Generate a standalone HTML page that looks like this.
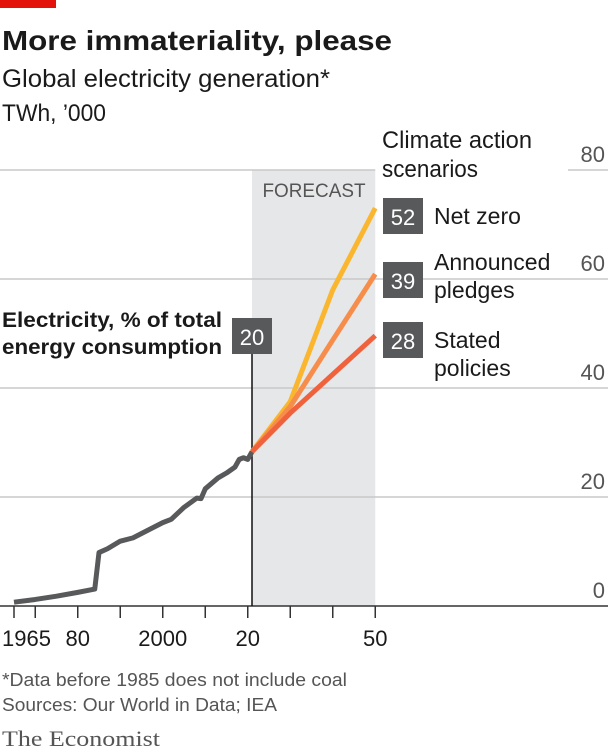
<!DOCTYPE html>
<html><head><meta charset="utf-8"><style>
html,body{margin:0;padding:0;background:#fff;width:608px;height:754px;overflow:hidden}
svg text{font-family:"Liberation Sans",sans-serif}
</style></head><body>
<svg id="chart" width="608" height="754" viewBox="0 0 608 754" xmlns="http://www.w3.org/2000/svg">
<rect x="0" y="0" width="56" height="8" fill="#e3120b"/>
<text x="2" y="50" font-size="28" font-weight="bold" fill="#1a1a1a" textLength="390" lengthAdjust="spacingAndGlyphs">More immateriality, please</text>
<text x="2" y="87" font-size="25" fill="#1a1a1a" textLength="328" lengthAdjust="spacingAndGlyphs">Global electricity generation*</text>
<text x="2" y="121" font-size="24" fill="#1a1a1a" textLength="104" lengthAdjust="spacingAndGlyphs">TWh, ’000</text>
<g id="grid"></g>
<g id="plot"></g>
<text x="314" y="197" font-size="19" fill="#555" text-anchor="middle" textLength="103" lengthAdjust="spacingAndGlyphs">FORECAST</text>
<text x="382" y="148" font-size="24" fill="#1a1a1a" textLength="150" lengthAdjust="spacingAndGlyphs">Climate action</text>
<text x="382" y="177" font-size="24" fill="#1a1a1a" textLength="96" lengthAdjust="spacingAndGlyphs">scenarios</text>
<g id="labels"></g>
<text x="2" y="327" font-size="21" font-weight="bold" fill="#1a1a1a" textLength="220" lengthAdjust="spacingAndGlyphs">Electricity, % of total</text>
<text x="2" y="354" font-size="21" font-weight="bold" fill="#1a1a1a" textLength="220" lengthAdjust="spacingAndGlyphs">energy consumption</text>
<text x="2" y="686" font-size="18" fill="#555" textLength="345" lengthAdjust="spacingAndGlyphs">*Data before 1985 does not include coal</text>
<text x="2" y="711" font-size="18" fill="#555" textLength="275" lengthAdjust="spacingAndGlyphs">Sources: Our World in Data; IEA</text>
<text x="2" y="746" font-size="22" fill="#555" style="font-family:'Liberation Serif',serif" textLength="158" lengthAdjust="spacingAndGlyphs">The Economist</text>
</svg>
<script>
const histYears=[1965,1970,1975,1980,1984,1985,1987,1990,1993,1995,2000,2002,2005,2008,2009,2010,2013,2015,2017,2018,2019,2020,2021];
const histValues=[0.7,1.2,1.8,2.5,3.1,9.8,10.5,11.9,12.5,13.3,15.3,15.9,18.1,19.8,19.7,21.5,23.5,24.4,25.5,26.9,27.2,26.9,28.3];
const fcYears=[2021,2030,2040,2050];
const netZero=[28.3,37.5,58.0,73.0];
const announced=[28.3,36.6,48.8,60.9];
const stated=[28.3,35.4,42.5,49.6];
const shareNow=[20];
const shareNetZero=[52];
const shareAnnounced=[39];
const shareStated=[28];
const yTicks=[0,20,40,60,80];
const xTicks=[1965,1970,1980,1990,2000,2010,2020,2030,2040,2050];
const xTickLabels=[["1965",1965],["80",1980],["2000",2000],["20",2020],["50",2050]];
const NS="http://www.w3.org/2000/svg";
const x=y=>14+(y-1965)*4.25;
const yv=v=>606-v*5.45;
function mk(tag,attrs,parent){const e=document.createElementNS(NS,tag);for(const k in attrs)e.setAttribute(k,attrs[k]);parent.appendChild(e);return e;}
const grid=document.getElementById('grid'),plot=document.getElementById('plot'),labels=document.getElementById('labels');
let band=mk('rect',{x:x(2021),y:yv(80),width:x(2050)-x(2021),height:yv(0)-yv(80),fill:'#e6e7e9'},grid);


yTicks.forEach(t=>{
  if(t>0&&t<80){
    let l=mk('line',{x1:0,x2:608,y1:yv(t),y2:yv(t),stroke:'#c8c8c8','stroke-width':1.5},grid);
    
    
  }
  if(t===80){
    let l=mk('line',{x1:0,x2:x(2050),y1:yv(t),y2:yv(t),stroke:'#c8c8c8','stroke-width':1.5},grid);
    
    
    let l2=mk('line',{x1:568,x2:608,y1:yv(t),y2:yv(t),stroke:'#c8c8c8','stroke-width':1.5},grid);
    
    
  }
  let tx=mk('text',{x:605,y:yv(t)-8,'font-size':22,fill:'#555','text-anchor':'end'},grid);
  tx.textContent=t;
  
  
});
let base=mk('line',{x1:0,x2:608,y1:yv(0),y2:yv(0),stroke:'#333','stroke-width':1.5},plot);


xTicks.forEach(t=>{
  let l=mk('line',{x1:x(t),x2:x(t),y1:yv(0),y2:yv(0)+12,stroke:'#333','stroke-width':1.5},plot);
  
  
});
xTickLabels.forEach(([s,t])=>{
  let tx=mk('text',{x:t===1965?x(t)-12:x(t),y:646,'font-size':22,fill:'#1a1a1a','text-anchor':t===1965?'start':'middle'},plot);
  tx.textContent=s;
  
  
});
let ml=mk('line',{x1:x(2021),x2:x(2021),y1:340,y2:yv(0),stroke:'#111','stroke-width':1.5},plot);


function line(xs,vs,color,name){
  let p=mk('polyline',{points:xs.map((yr,i)=>x(yr)+','+yv(vs[i])).join(' '),fill:'none',stroke:color,'stroke-width':5,'stroke-linejoin':'round','stroke-linecap':'butt'},plot);
  
  
}
line(histYears,histValues,'#58595b','historical-line');
line(fcYears,netZero,'#fbb62f','net-zero-line');
line(fcYears,announced,'#f78d4b','announced-pledges-line');
line(fcYears,stated,'#f0623c','stated-policies-line');
function box(bx,by,val,name){
  let r=mk('rect',{x:bx,y:by,width:40,height:36,fill:'#58595b'},labels);
  
  
  let t=mk('text',{x:bx+20,y:by+27,'font-size':22,fill:'#fff','text-anchor':'middle'},labels);
  t.textContent=val;
  
  
}
box(232,318,shareNow[0],'share-2021');
box(383,198,shareNetZero[0],'share-net-zero');
box(383,262,shareAnnounced[0],'share-announced');
box(383,322,shareStated[0],'share-stated');
function lbl(tx,ty,s,name){
  let t=mk('text',{x:tx,y:ty,'font-size':23,fill:'#1a1a1a'},labels);
  t.textContent=s;
  
  
}
lbl(434,224,'Net zero','legend-net-zero');
lbl(434,270,'Announced','legend-announced');
lbl(434,298,'pledges','legend-announced-2');
lbl(434,348,'Stated','legend-stated');
lbl(434,376,'policies','legend-stated-2');
</script>
</body></html>
